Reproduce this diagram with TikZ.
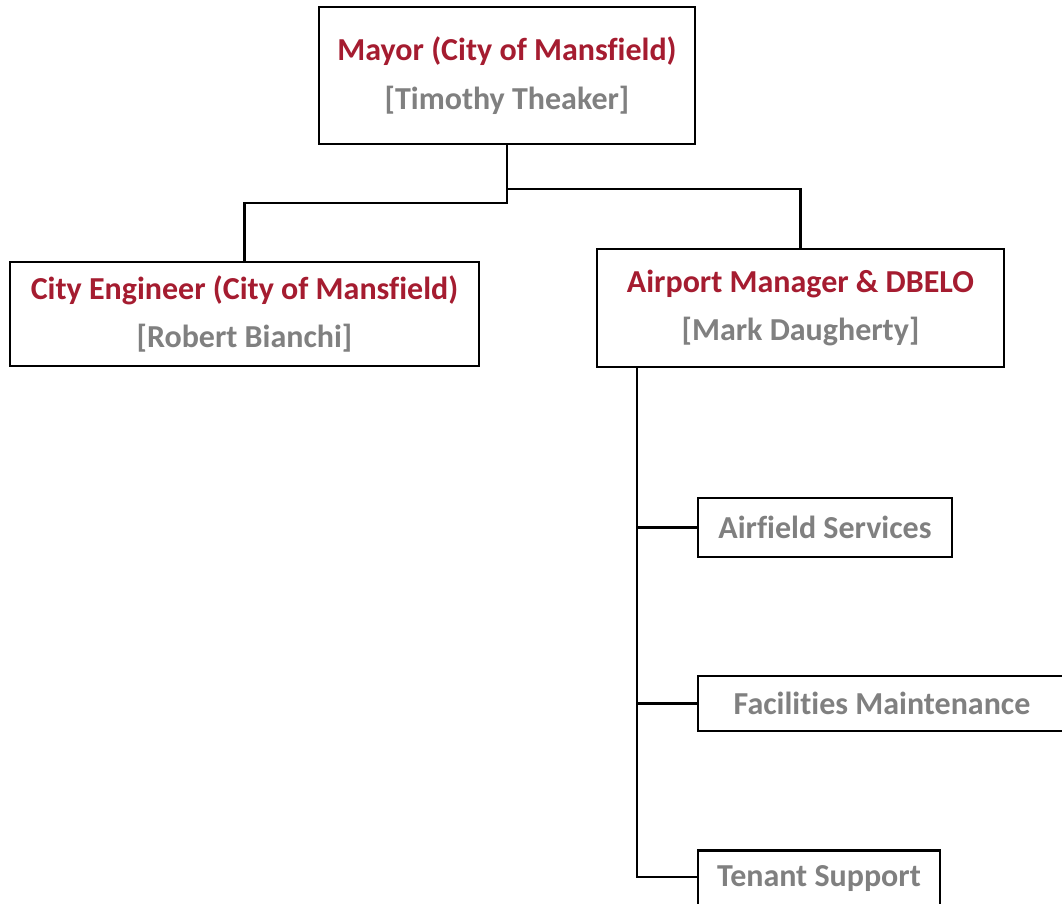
\documentclass[tikz,border=0pt]{standalone}
\usepackage{fontspec}
\setmainfont{Carlito}[Ligatures=NoCommon]
\definecolor{titlered}{RGB}{165,28,48}
\definecolor{namegray}{RGB}{128,128,128}
\begin{document}
\begin{tikzpicture}[x=1pt,y=-1pt,
  box/.style={draw=black,line width=2.8pt,fill=white,inner sep=0pt,align=center,font=\bfseries\fontsize{32}{48}\selectfont},
  link/.style={draw=black,line width=2.8pt}]
\useasboundingbox (0,0) rectangle (1062,903);
\clip (0,0) rectangle (1062,903);
% top level
\node[box,minimum width=376pt,minimum height=137pt] (mayor) at (507,75.5)
  {\textcolor{titlered}{Mayor (City of Mansfield)}\\[1pt]\textcolor{namegray}{[Timothy Theaker]}};
% second level
\node[box,minimum width=469pt,minimum height=104pt] (eng) at (244.5,314)
  {\textcolor{titlered}{City Engineer (City of Mansfield)}\\\textcolor{namegray}{[Robert Bianchi]}};
\node[box,minimum width=407pt,minimum height=118pt] (apm) at (800.5,308)
  {\textcolor{titlered}{Airport Manager \& DBELO}\\\textcolor{namegray}{[Mark Daugherty]}};
% departments
\node[box,minimum width=254pt,minimum height=59pt,text=namegray] (air) at (825,527.5) {Airfield Services};
\node[box,minimum width=372pt,minimum height=55pt,text=namegray] (fac) at (884,703.5) {\hspace*{-2pt}Facilities Maintenance\hspace*{2pt}};
\node[box,minimum width=242pt,minimum height=57pt,text=namegray] (ten) at (819,879) {Tenant Support};
% connectors
\coordinate (bL) at (507,203);
\coordinate (bR) at (507,189);
\coordinate (t0) at (637,367);
\coordinate (t1) at (637,877);
\draw[link] (mayor.south) -- (bL) -| (eng.north);
\draw[link] (bR) -| (apm.north);
\draw[link] (t0) -- (t1) -- (ten.west |- t1);
\draw[link] (t0 |- air.west) -- (air.west);
\draw[link] (t0 |- fac.west) -- (fac.west);
\end{tikzpicture}
\end{document}
